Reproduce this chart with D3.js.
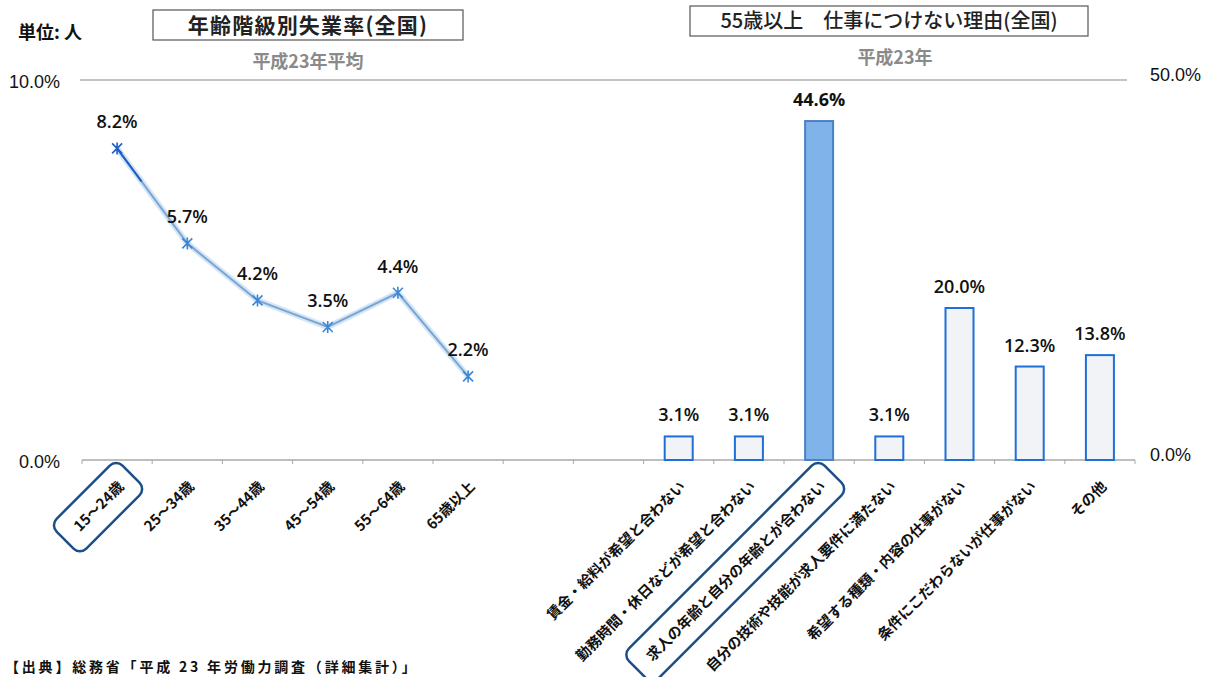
<!DOCTYPE html>
<html><head><meta charset="utf-8">
<script src="https://cdn.jsdelivr.net/npm/d3@7"></script>
<style>
body{margin:0;background:#fff;}
text{font-family:"Noto Sans CJK JP","Noto Sans",sans-serif;}
</style></head>
<body><svg id="c" width="1211" height="677"></svg>
<script>
const ageCategories = ["15～24歳","25～34歳","35～44歳","45～54歳","55～64歳","65歳以上"];
const unemploymentRates = [8.2, 5.7, 4.2, 3.5, 4.4, 2.2];
const reasonCategories = ["賃金・給料が希望と合わない","勤務時間・休日などが希望と合わない","求人の年齢と自分の年齢とが合わない","自分の技術や技能が求人要件に満たない","希望する種類・内容の仕事がない","条件にこだわらないが仕事がない","その他"];
const reasonValues = [3.1, 3.1, 44.6, 3.1, 20.0, 12.3, 13.8];
const gapCategories = ["__gap1","__gap2"];
const leftTicks = [0, 10];
const rightTicks = [0, 50];
const highlightAge = "15～24歳";
const highlightReason = "求人の年齢と自分の年齢とが合わない";

const svg = d3.select("#c");
const X0 = 82, X1 = 1135, Y0 = 460, Y1 = 80;
const x = d3.scaleBand().domain([...ageCategories, ...gapCategories, ...reasonCategories]).range([X0, X1]);
const yL = d3.scaleLinear().domain([0, 10]).range([Y0, Y1]);
const yR = d3.scaleLinear().domain([0, 50]).range([Y0, Y1]);
const cx = d => x(d) + x.bandwidth() / 2;

// top gridline
svg.append("line").attr("x1", X0 - 2).attr("x2", 1127).attr("y1", yL(10)).attr("y2", yL(10))
  .attr("stroke", "#8a8a8a").attr("stroke-width", 1.2);

// bottom axis
const xAxis = svg.append("g").attr("transform", `translate(0,${Y0})`);
xAxis.append("line").attr("x1", X0).attr("x2", X1).attr("stroke", "#a8a8a8").attr("stroke-width", 1.5);
xAxis.selectAll(".tk").data(x.domain().concat(["__end"])).enter().append("line")
  .attr("x1", (d, i) => X0 + i * x.step()).attr("x2", (d, i) => X0 + i * x.step())
  .attr("y1", 0).attr("y2", 4).attr("stroke", "#a8a8a8");

// left & right value axes
const fmt = d => d.toFixed(1) + "%";
const ga = svg.append("g").attr("transform", "translate(63,1)")
  .call(d3.axisLeft(yL).tickValues(leftTicks).tickFormat(fmt).tickSize(0));
ga.select(".domain").remove();
ga.selectAll("text").attr("font-size", 18).attr("fill", "#111").attr("dy", "0.35em")
  .style("font-family", "'Liberation Sans',Arial,sans-serif");
const gr = svg.append("g").attr("transform", "translate(1147,-6)")
  .call(d3.axisRight(yR).tickValues(rightTicks).tickFormat(fmt).tickSize(0));
gr.select(".domain").remove();
gr.selectAll("text").attr("font-size", 18).attr("fill", "#111").attr("dy", "0.35em")
  .style("font-family", "'Liberation Sans',Arial,sans-serif");

// bars
svg.selectAll(".bar").data(reasonCategories).enter().append("rect")
  .attr("x", d => cx(d) - 14).attr("width", 28)
  .attr("y", (d, i) => yR(reasonValues[i])).attr("height", (d, i) => Y0 - yR(reasonValues[i]))
  .attr("fill", d => d === highlightReason ? "#7fb3ea" : "#f1f3f7")
  .attr("stroke", d => d === highlightReason ? "#4a82c4" : "#1e6fd9")
  .attr("stroke-width", 2);
svg.selectAll(".bl").data(reasonCategories).enter().append("text")
  .attr("x", d => cx(d)).attr("y", (d, i) => yR(reasonValues[i]) - 15)
  .attr("text-anchor", "middle").attr("font-size", 18)
  .attr("font-weight", d => d === highlightReason ? 700 : 600).attr("fill", "#111")
  .style("font-family", "'Open Sans',sans-serif")
  .text((d, i) => reasonValues[i].toFixed(1) + "%");

// line
const pts = ageCategories.map((d, i) => [cx(d), yL(unemploymentRates[i])]);
svg.append("path").attr("d", d3.line()(pts)).attr("fill", "none")
  .attr("stroke", "#d3e5f6").attr("stroke-width", 6).attr("stroke-linejoin", "round");
svg.append("path").attr("d", d3.line()(pts)).attr("fill", "none")
  .attr("stroke", "#7aa6d4").attr("stroke-width", 2);
svg.append("path").attr("d", d3.line()([pts[0], [pts[0][0] + (pts[1][0]-pts[0][0])*0.35, pts[0][1] + (pts[1][1]-pts[0][1])*0.35]]))
  .attr("stroke", "#1f5fc8").attr("stroke-width", 2);
const star = svg.selectAll(".mk").data(pts).enter().append("g")
  .attr("transform", d => `translate(${d[0]},${d[1]})`);
star.each(function(d, i) {
  const g = d3.select(this), s = 5, c = i === 0 ? "#1f5fc8" : "#3d86d6";
  g.append("path").attr("d", `M${-s},${-s}L${s},${s}M${-s},${s}L${s},${-s}M0,${-s-1}L0,${s+1}`)
    .attr("stroke", c).attr("stroke-width", 1.6);
});
svg.selectAll(".ll").data(ageCategories).enter().append("text")
  .attr("x", d => cx(d)).attr("y", (d, i) => yL(unemploymentRates[i]) - 20)
  .attr("text-anchor", "middle").attr("font-size", 18).attr("font-weight", 600).attr("fill", "#111")
  .style("font-family", "'Open Sans',sans-serif")
  .text((d, i) => unemploymentRates[i].toFixed(1) + "%");

// category labels rotated
const catLabels = [...ageCategories, ...reasonCategories];
const lg = svg.selectAll(".cl").data(catLabels).enter().append("g")
  .attr("transform", d => `translate(${cx(d) + 4},${Y0 + 24}) rotate(-45)`);
lg.append("text").attr("text-anchor", "end").attr("font-size", 14.5).attr("font-weight", 700)
  .attr("fill", "#111").attr("dy", "0.35em").text(d => d);
lg.filter(d => d === highlightAge || d === highlightReason).each(function(d) {
  const g = d3.select(this);
  const w = g.select("text").node().getComputedTextLength();
  const padL = 16, padR = 14;
  g.insert("rect", "text").attr("x", -w - padL).attr("y", -21).attr("width", w + padL + padR)
    .attr("height", 42).attr("rx", 9).attr("fill", "none").attr("stroke", "#1c4f87").attr("stroke-width", 2.5);
});

// titles
function titleBox(cxp, y, w, h, txt, weight, fs, ls) {
  svg.append("rect").attr("x", cxp - w / 2).attr("y", y).attr("width", w).attr("height", h)
    .attr("fill", "#fff").attr("stroke", "#555").attr("stroke-width", 1.2);
  svg.append("text").attr("x", cxp).attr("y", y + h / 2).attr("dy", "0.36em").attr("text-anchor", "middle")
    .attr("font-size", fs).attr("letter-spacing", ls).attr("font-weight", weight).attr("fill", "#222").text(txt);
}
titleBox(308, 10, 310, 30, "年齢階級別失業率(全国)", 700, 21, 1.2);
titleBox(889, 6, 398, 30, "55歳以上　仕事につけない理由(全国)", 500, 20, 0);
svg.append("text").attr("x", 308).attr("y", 68).attr("text-anchor", "middle").attr("font-size", 18)
  .attr("font-weight", 700).attr("fill", "#8a8a8a").text("平成23年平均");
svg.append("text").attr("x", 895).attr("y", 64).attr("text-anchor", "middle").attr("font-size", 18)
  .attr("font-weight", 700).attr("fill", "#8a8a8a").text("平成23年");
svg.append("text").attr("x", 18).attr("y", 39).attr("font-size", 18).attr("font-weight", 700)
  .attr("fill", "#111").text("単位: 人");
svg.append("text").attr("x", 5).attr("y", 672).attr("font-size", 14).attr("font-weight", 700)
  .attr("fill", "#111").attr("letter-spacing", 2.8).text("【出典】総務省「平成 23 年労働力調査（詳細集計）」");
</script></body></html>
